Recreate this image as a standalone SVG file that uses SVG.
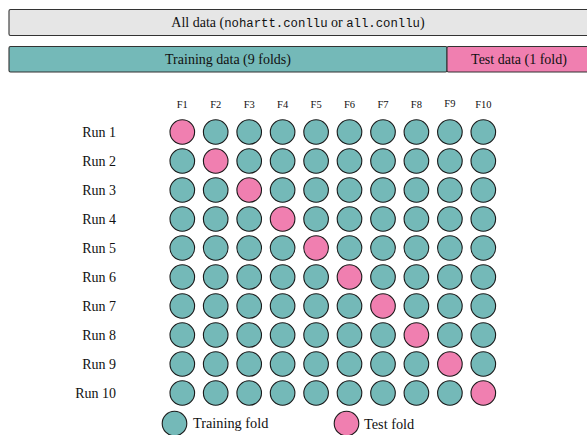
<svg xmlns="http://www.w3.org/2000/svg" width="587" height="435" viewBox="0 0 587 435">
<style>
.s{font-family:"Liberation Serif","Times New Roman",serif;fill:#111}
.m{font-family:"Liberation Mono","Courier New",monospace}
.tr{fill:#74b9b8;stroke:#1a1a1a;stroke-width:1.1}
.te{fill:#f07fb0;stroke:#1a1a1a;stroke-width:1.1}
.box{stroke:#333;stroke-width:1.1}
.fl{font-size:10.5px;text-anchor:middle}
.rl{font-size:14px;text-anchor:end}
</style>
<defs>
<circle id="c" r="12.3"/>
</defs>
<g id="all-data">
<rect class="box" x="9" y="9.5" width="583" height="26" rx="1.5" fill="#e6e6e6"/>
<text class="s" x="298" y="27" font-size="14" text-anchor="middle">All data (<tspan class="m" font-size="12.3">nohartt.conllu</tspan> or <tspan class="m" font-size="12.3">all.conllu</tspan>)</text>
</g>
<g id="training-data">
<rect class="box" x="9" y="46.5" width="438" height="25.5" rx="1.5" fill="#74b9b8"/>
<text class="s" x="228" y="64" font-size="14" text-anchor="middle">Training data (9 folds)</text>
</g>
<g id="test-data">
<rect class="box" x="447" y="46.5" width="145" height="25.5" rx="1.5" fill="#f07fb0"/>
<text class="s" x="519" y="64" font-size="14" text-anchor="middle">Test data (1 fold)</text>
</g>
<g id="fold-headers" class="s">
<text class="fl" x="182.3" y="108">F1</text>
<text class="fl" x="215.7" y="108">F2</text>
<text class="fl" x="249.2" y="108">F3</text>
<text class="fl" x="282.6" y="108">F4</text>
<text class="fl" x="316.1" y="108">F5</text>
<text class="fl" x="349.5" y="108">F6</text>
<text class="fl" x="383" y="108">F7</text>
<text class="fl" x="416.4" y="108">F8</text>
<text class="fl" x="449.9" y="107">F9</text>
<text class="fl" x="483.3" y="108">F10</text>
</g>
<g id="run-labels" class="s">
<text class="rl" x="116" y="137">Run 1</text>
<text class="rl" x="116" y="166">Run 2</text>
<text class="rl" x="116" y="195">Run 3</text>
<text class="rl" x="116" y="224">Run 4</text>
<text class="rl" x="116" y="253">Run 5</text>
<text class="rl" x="116" y="282">Run 6</text>
<text class="rl" x="116" y="311">Run 7</text>
<text class="rl" x="116" y="340">Run 8</text>
<text class="rl" x="116" y="369">Run 9</text>
<text class="rl" x="116" y="398">Run 10</text>
</g>
<g id="run-1" transform="translate(0,132)">
<use href="#c" class="te" x="182.3"/><use href="#c" class="tr" x="215.7"/><use href="#c" class="tr" x="249.2"/><use href="#c" class="tr" x="282.6"/><use href="#c" class="tr" x="316.1"/><use href="#c" class="tr" x="349.5"/><use href="#c" class="tr" x="383"/><use href="#c" class="tr" x="416.4"/><use href="#c" class="tr" x="449.9"/><use href="#c" class="tr" x="483.3"/>
</g>
<g id="run-2" transform="translate(0,161)">
<use href="#c" class="tr" x="182.3"/><use href="#c" class="te" x="215.7"/><use href="#c" class="tr" x="249.2"/><use href="#c" class="tr" x="282.6"/><use href="#c" class="tr" x="316.1"/><use href="#c" class="tr" x="349.5"/><use href="#c" class="tr" x="383"/><use href="#c" class="tr" x="416.4"/><use href="#c" class="tr" x="449.9"/><use href="#c" class="tr" x="483.3"/>
</g>
<g id="run-3" transform="translate(0,190)">
<use href="#c" class="tr" x="182.3"/><use href="#c" class="tr" x="215.7"/><use href="#c" class="te" x="249.2"/><use href="#c" class="tr" x="282.6"/><use href="#c" class="tr" x="316.1"/><use href="#c" class="tr" x="349.5"/><use href="#c" class="tr" x="383"/><use href="#c" class="tr" x="416.4"/><use href="#c" class="tr" x="449.9"/><use href="#c" class="tr" x="483.3"/>
</g>
<g id="run-4" transform="translate(0,219)">
<use href="#c" class="tr" x="182.3"/><use href="#c" class="tr" x="215.7"/><use href="#c" class="tr" x="249.2"/><use href="#c" class="te" x="282.6"/><use href="#c" class="tr" x="316.1"/><use href="#c" class="tr" x="349.5"/><use href="#c" class="tr" x="383"/><use href="#c" class="tr" x="416.4"/><use href="#c" class="tr" x="449.9"/><use href="#c" class="tr" x="483.3"/>
</g>
<g id="run-5" transform="translate(0,248)">
<use href="#c" class="tr" x="182.3"/><use href="#c" class="tr" x="215.7"/><use href="#c" class="tr" x="249.2"/><use href="#c" class="tr" x="282.6"/><use href="#c" class="te" x="316.1"/><use href="#c" class="tr" x="349.5"/><use href="#c" class="tr" x="383"/><use href="#c" class="tr" x="416.4"/><use href="#c" class="tr" x="449.9"/><use href="#c" class="tr" x="483.3"/>
</g>
<g id="run-6" transform="translate(0,277)">
<use href="#c" class="tr" x="182.3"/><use href="#c" class="tr" x="215.7"/><use href="#c" class="tr" x="249.2"/><use href="#c" class="tr" x="282.6"/><use href="#c" class="tr" x="316.1"/><use href="#c" class="te" x="349.5"/><use href="#c" class="tr" x="383"/><use href="#c" class="tr" x="416.4"/><use href="#c" class="tr" x="449.9"/><use href="#c" class="tr" x="483.3"/>
</g>
<g id="run-7" transform="translate(0,306)">
<use href="#c" class="tr" x="182.3"/><use href="#c" class="tr" x="215.7"/><use href="#c" class="tr" x="249.2"/><use href="#c" class="tr" x="282.6"/><use href="#c" class="tr" x="316.1"/><use href="#c" class="tr" x="349.5"/><use href="#c" class="te" x="383"/><use href="#c" class="tr" x="416.4"/><use href="#c" class="tr" x="449.9"/><use href="#c" class="tr" x="483.3"/>
</g>
<g id="run-8" transform="translate(0,335)">
<use href="#c" class="tr" x="182.3"/><use href="#c" class="tr" x="215.7"/><use href="#c" class="tr" x="249.2"/><use href="#c" class="tr" x="282.6"/><use href="#c" class="tr" x="316.1"/><use href="#c" class="tr" x="349.5"/><use href="#c" class="tr" x="383"/><use href="#c" class="te" x="416.4"/><use href="#c" class="tr" x="449.9"/><use href="#c" class="tr" x="483.3"/>
</g>
<g id="run-9" transform="translate(0,364)">
<use href="#c" class="tr" x="182.3"/><use href="#c" class="tr" x="215.7"/><use href="#c" class="tr" x="249.2"/><use href="#c" class="tr" x="282.6"/><use href="#c" class="tr" x="316.1"/><use href="#c" class="tr" x="349.5"/><use href="#c" class="tr" x="383"/><use href="#c" class="tr" x="416.4"/><use href="#c" class="te" x="449.9"/><use href="#c" class="tr" x="483.3"/>
</g>
<g id="run-10" transform="translate(0,393)">
<use href="#c" class="tr" x="182.3"/><use href="#c" class="tr" x="215.7"/><use href="#c" class="tr" x="249.2"/><use href="#c" class="tr" x="282.6"/><use href="#c" class="tr" x="316.1"/><use href="#c" class="tr" x="349.5"/><use href="#c" class="tr" x="383"/><use href="#c" class="tr" x="416.4"/><use href="#c" class="tr" x="449.9"/><use href="#c" class="te" x="483.3"/>
</g>
<g id="legend-training">
<use href="#c" class="tr" x="174.5" y="423.5"/>
<text class="s" x="193" y="428" font-size="14.3">Training fold</text>
</g>
<g id="legend-test">
<use href="#c" class="te" x="346.5" y="423.5"/>
<text class="s" x="364" y="429" font-size="14.3">Test fold</text>
</g>
<g id="connectors"></g>
</svg>
